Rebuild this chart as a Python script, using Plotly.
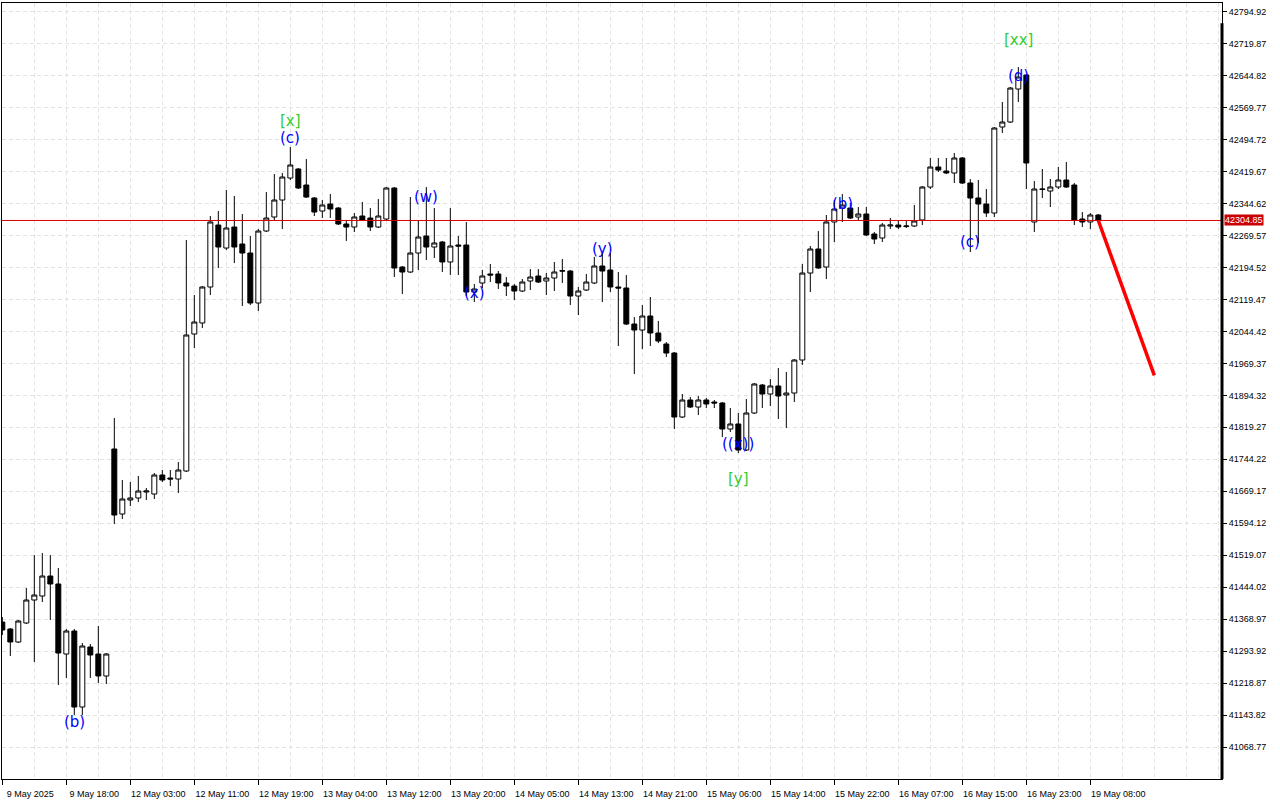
import plotly.graph_objects as go

opens = [41362.3, 41345.8, 41315.3, 41359.9, 41413.9, 41423.3, 41470.2, 41451.5, 41287.1, 41341.1,
         41162.7, 41303.6, 41287.1, 41235.5, 41768.4, 41615.8, 41648.7, 41653.4, 41667.4, 41662.7,
         41707.3, 41700.3, 41697.9, 41716.7, 42038.3, 42064.2, 42148.7, 42294.2, 42240.2, 42289.5,
         42249.6, 42228.5, 42111.1, 42280.1, 42313.0, 42352.9, 42404.5, 42425.7, 42388.1, 42357.6,
         42327.1, 42343.5, 42334.1, 42296.6, 42289.5, 42315.3, 42310.6, 42289.5, 42308.3, 42381.1,
         42195.6, 42183.9, 42228.5, 42268.4, 42242.6, 42254.3, 42207.4, 42247.3, 42247.3, 42136.9,
         42158.1, 42179.2, 42179.2, 42158.1, 42151.0, 42139.3, 42162.8, 42174.5, 42162.8, 42169.8,
         42187.0, 42186.2, 42127.5, 42141.6, 42158.1, 42198.0, 42188.6, 42148.7, 42146.3, 42061.8,
         42047.7, 42080.6, 42040.7, 42014.9, 41993.7, 41843.5, 41883.4, 41867.0, 41883.4, 41878.7,
         41876.4, 41815.3, 41827.1, 41766.0, 41852.9, 41918.6, 41897.5, 41916.3, 41895.1, 41899.8,
         41977.3, 42181.5, 42237.9, 42195.6, 42301.3, 42334.1, 42334.1, 42313.0, 42320.0, 42273.1,
         42263.7, 42291.9, 42294.2, 42290.5, 42291.9, 42306.0, 42383.4, 42430.4, 42421.0, 42416.3,
         42451.5, 42392.8, 42357.6, 42343.5, 42322.4, 42524.3, 42536.0, 42613.5, 42646.3, 42301.3,
         42378.7, 42374.0, 42383.4, 42399.9, 42388.1, 42308.3, 42301.3, 42317.7]

highs = [41374.0, 41348.2, 41367.0, 41442.1, 41519.5, 41524.2, 41519.5, 41489.0, 41345.8, 41345.8,
         41313.0, 41310.6, 41352.9, 41289.5, 41841.1, 41695.6, 41690.9, 41705.0, 41676.8, 41712.0,
         41719.1, 41719.1, 41737.9, 42259.0, 42129.9, 42151.0, 42315.3, 42327.1, 42376.4, 42362.3,
         42320.0, 42268.4, 42284.8, 42371.7, 42413.9, 42416.3, 42477.3, 42428.0, 42449.1, 42359.9,
         42352.9, 42367.0, 42336.5, 42306.0, 42322.4, 42348.2, 42334.1, 42355.3, 42383.4, 42383.4,
         42198.0, 42359.9, 42306.0, 42383.4, 42334.1, 42256.7, 42334.1, 42268.4, 42301.3, 42155.7,
         42188.6, 42202.7, 42186.2, 42172.1, 42155.7, 42167.4, 42190.9, 42190.9, 42181.5, 42207.4,
         42214.4, 42188.6, 42148.7, 42179.2, 42219.1, 42230.8, 42228.5, 42183.9, 42176.8, 42078.2,
         42106.4, 42125.2, 42068.9, 42019.6, 41996.1, 41897.5, 41890.4, 41892.8, 41888.1, 41883.4,
         41878.7, 41864.6, 41852.9, 41885.8, 41923.3, 41921.0, 41932.7, 41958.5, 41949.1, 41979.7,
         42202.7, 42244.9, 42280.1, 42317.7, 42352.9, 42367.0, 42345.9, 42336.5, 42336.5, 42277.8,
         42298.9, 42310.6, 42306.0, 42303.6, 42341.2, 42385.8, 42451.5, 42451.5, 42451.5, 42463.2,
         42453.8, 42402.2, 42399.9, 42378.7, 42524.3, 42583.0, 42618.2, 42665.1, 42648.7, 42397.5,
         42425.7, 42402.2, 42430.4, 42442.1, 42392.8, 42324.7, 42322.4, 42320.0]

lows = [41331.7, 41282.4, 41313.0, 41357.6, 41268.4, 41409.2, 41367.0, 41214.4, 41230.8, 41143.9,
        41143.9, 41230.8, 41219.1, 41216.7, 41592.3, 41604.0, 41634.6, 41644.0, 41648.7, 41651.0,
        41690.9, 41681.5, 41665.1, 41714.4, 42005.5, 42052.4, 42129.9, 42193.3, 42235.5, 42205.0,
        42104.1, 42106.4, 42092.3, 42277.8, 42303.6, 42284.8, 42399.9, 42378.7, 42357.6, 42315.3,
        42310.6, 42310.6, 42294.2, 42256.7, 42277.8, 42303.6, 42280.1, 42287.2, 42306.0, 42172.1,
        42132.2, 42181.5, 42188.6, 42212.1, 42216.7, 42183.9, 42176.8, 42176.8, 42127.5, 42113.5,
        42146.3, 42160.4, 42144.0, 42127.5, 42118.2, 42136.9, 42141.6, 42158.1, 42129.9, 42139.3,
        42158.1, 42106.4, 42082.9, 42139.3, 42155.7, 42113.5, 42136.9, 42010.2, 42059.5, 41944.4,
        42003.1, 42010.2, 42017.2, 41984.3, 41815.3, 41841.1, 41864.6, 41848.2, 41864.6, 41864.6,
        41796.5, 41808.3, 41759.0, 41763.7, 41850.5, 41864.6, 41869.3, 41838.8, 41817.7, 41878.7,
        41965.6, 42136.9, 42190.9, 42167.4, 42254.3, 42301.3, 42308.3, 42306.0, 42268.4, 42249.6,
        42254.3, 42284.8, 42284.8, 42287.2, 42289.5, 42294.2, 42378.7, 42418.6, 42413.9, 42392.8,
        42390.5, 42230.8, 42252.0, 42313.0, 42313.0, 42510.2, 42533.7, 42583.0, 42378.7, 42277.8,
        42357.6, 42336.5, 42378.7, 42381.1, 42294.2, 42289.5, 42284.8, 42304.85]

closes = [41343.5, 41315.3, 41364.6, 41413.9, 41425.6, 41470.2, 41451.5, 41289.5, 41341.1, 41162.7,
          41305.9, 41284.8, 41235.5, 41287.1, 41613.4, 41651.0, 41653.4, 41669.8, 41669.8, 41707.3,
          41695.6, 41697.9, 41719.1, 42036.0, 42066.5, 42148.7, 42301.3, 42242.6, 42287.2, 42242.6,
          42228.5, 42111.1, 42280.1, 42310.6, 42352.9, 42406.9, 42435.1, 42381.1, 42359.9, 42324.7,
          42341.2, 42331.8, 42296.6, 42289.5, 42313.0, 42306.0, 42289.5, 42315.3, 42381.1, 42193.3,
          42183.9, 42228.5, 42266.0, 42242.6, 42252.0, 42207.4, 42244.9, 42244.9, 42136.9, 42144.0,
          42174.5, 42176.8, 42158.1, 42151.0, 42139.3, 42160.4, 42172.1, 42160.4, 42169.8, 42183.9,
          42186.2, 42127.5, 42139.3, 42160.4, 42198.0, 42186.2, 42148.7, 42146.3, 42061.8, 42047.7,
          42080.6, 42040.7, 42021.9, 41993.7, 41843.5, 41883.4, 41867.0, 41883.4, 41874.0, 41876.4,
          41815.3, 41827.1, 41766.0, 41852.9, 41921.0, 41897.5, 41916.3, 41892.8, 41899.8, 41977.3,
          42181.5, 42237.9, 42193.3, 42301.3, 42331.8, 42341.2, 42310.6, 42320.0, 42270.7, 42261.3,
          42294.2, 42294.2, 42289.5, 42291.9, 42303.6, 42383.4, 42430.4, 42423.3, 42416.3, 42451.5,
          42392.8, 42357.6, 42343.5, 42322.4, 42521.9, 42536.0, 42615.8, 42641.6, 42439.8, 42378.7,
          42378.0, 42383.4, 42399.9, 42383.4, 42306.0, 42301.3, 42317.7, 42304.85]

bar_index = list(range(len(closes)))

x_tick_positions = list(range(0, 137, 8))
x_tick_labels = ["9 May 2025", "9 May 18:00", "12 May 03:00", "12 May 11:00", "12 May 19:00",
                 "13 May 04:00", "13 May 12:00", "13 May 20:00", "14 May 05:00", "14 May 13:00",
                 "14 May 21:00", "15 May 06:00", "15 May 14:00", "15 May 22:00", "16 May 07:00",
                 "16 May 15:00", "16 May 23:00", "19 May 08:00"]

y_tick_values = [41068.77, 41143.82, 41218.87, 41293.92, 41368.97, 41444.02, 41519.07, 41594.12,
                 41669.17, 41744.22, 41819.27, 41894.32, 41969.37, 42044.42, 42119.47, 42194.52,
                 42269.57, 42344.62, 42419.67, 42494.72, 42569.77, 42644.82, 42719.87, 42794.92]
y_tick_labels = [f"{v:.2f}" for v in y_tick_values]

current_price = 42304.85
forecast_x = [137, 144]
forecast_y = [42304.85, 41941.4]

wave_texts = ["(b)", "[x]", "(c)", "(w)", "(x)", "(y)", "((x))", "[y]", "(b)", "(c)", "(d)", "[xx]"]
wave_x = [9, 36, 36, 53, 59, 75, 92, 92, 105, 121, 127, 127]
wave_y = [41127.5, 42538.4, 42498.4, 42359.9, 42134.6, 42237.9, 41780.1, 41697.9,
          42343.5, 42254.3, 42644.0, 42728.5]
wave_colors = ["#0000ff", "#32cd32", "#0000ff", "#0000ff", "#0000ff", "#0000ff", "#0000ff",
               "#32cd32", "#0000ff", "#0000ff", "#0000ff", "#32cd32"]

fig = go.Figure()
fig.add_trace(go.Candlestick(
    x=bar_index, open=opens, high=highs, low=lows, close=closes,
    increasing=dict(fillcolor="#ffffff", line=dict(color="#000000", width=1)),
    decreasing=dict(fillcolor="#000000", line=dict(color="#000000", width=1)),
    whiskerwidth=0, showlegend=False, hoverinfo="skip"))

fig.add_trace(go.Scatter(x=forecast_x, y=forecast_y, mode="lines",
                         line=dict(color="#ff0000", width=3.5), showlegend=False, hoverinfo="skip"))

fig.add_shape(type="line", xref="paper", x0=0, x1=1, yref="y", y0=current_price, y1=current_price,
              line=dict(color="#d40000", width=1), layer="above")
fig.add_shape(type="line", xref="paper", x0=1, x1=1, yref="paper", y0=0, y1=0.974,
              line=dict(color="#000000", width=3), layer="above")

for t, xx, yy, c in zip(wave_texts, wave_x, wave_y, wave_colors):
    fig.add_annotation(x=xx, y=yy, text=t, showarrow=False, xanchor="center", yanchor="middle",
                       font=dict(family="DejaVu Sans", size=15, color=c))

fig.add_annotation(xref="paper", x=1, xanchor="left", xshift=2, y=current_price, yref="y",
                   text=f"{current_price:.2f}", showarrow=False, bgcolor="#cc0000", borderpad=0,
                   font=dict(family="Liberation Sans", size=9, color="#ffffff"))

grid_color = "#e3e3e3"
fig.update_layout(
    width=1280, height=800, autosize=False,
    margin=dict(l=2, r=58, t=3, b=21, pad=0),
    paper_bgcolor="#ffffff", plot_bgcolor="#ffffff",
    boxgap=0.38, boxgroupgap=0,
    font=dict(family="Liberation Sans", size=9, color="#000000"),
    xaxis=dict(
        range=[-0.04, 152.46], tickmode="array", tickvals=x_tick_positions, ticktext=x_tick_labels,
        ticks="outside", ticklen=5, tickcolor="#000000", tickwidth=1,
        ticklabelshift=28, ticklabelstandoff=1,
        showgrid=True, gridcolor=grid_color, griddash="4px,3px", gridwidth=1,
        minor=dict(tickmode="linear", tick0=0, dtick=4, showgrid=True, gridcolor=grid_color,
                   griddash="4px,3px", ticks=""),
        showline=True, linecolor="#000000", linewidth=1, mirror=True,
        zeroline=False, rangeslider=dict(visible=False),
        tickfont=dict(family="Liberation Sans", size=9, color="#000000")),
    yaxis=dict(
        range=[40993.7, 42815.4], side="right", tickmode="array", tickvals=y_tick_values,
        ticktext=y_tick_labels, ticks="outside", ticklen=4, tickcolor="#000000",
        showgrid=True, gridcolor=grid_color, griddash="4px,3px", gridwidth=1,
        showline=True, linecolor="#000000", linewidth=1, mirror=True, zeroline=False,
        tickfont=dict(family="Liberation Sans", size=9, color="#000000")),
)

fig.write_html("out.html", config={"displayModeBar": False},
               post_script="document.body.style.margin='0';document.body.style.padding='0';")
